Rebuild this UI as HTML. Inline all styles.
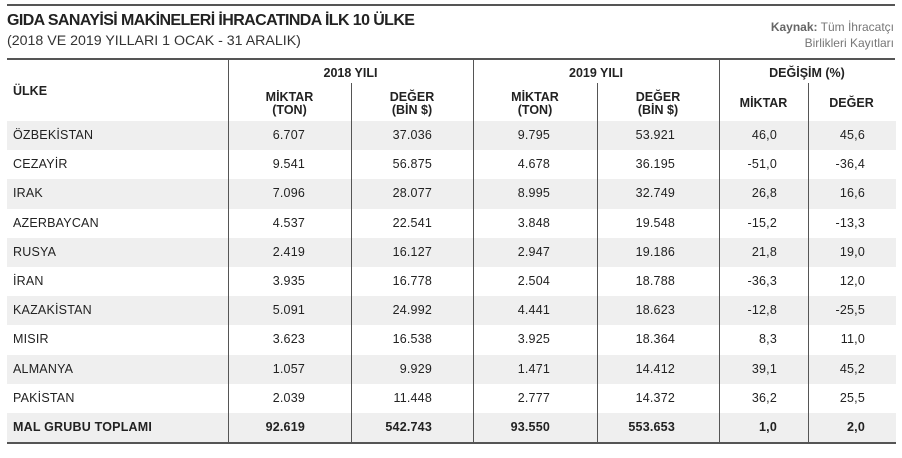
<!DOCTYPE html>
<html><head><meta charset="utf-8"><style>
*{margin:0;padding:0;box-sizing:border-box}
body{width:902px;height:458px;background:#fff;position:relative;overflow:hidden;font-family:"Liberation Sans","DejaVu Sans",sans-serif;color:#222}
.a{position:absolute;white-space:nowrap}
.hl{position:absolute;background:#555;height:2px}
.vl{position:absolute;background:#555;width:1.5px}
.row{position:absolute;left:7px;width:889px;height:29.2px}
.g{background:#efefef}
.c{position:absolute;top:0;line-height:29.2px;font-size:12.5px;letter-spacing:0.2px}
.r{text-align:right}
.h{font-weight:bold;font-size:12.5px;text-align:center;line-height:13px;color:#222}
</style></head><body>
<div class="hl" style="left:7px;top:4px;width:888px"></div>
<div class="a" style="left:7px;top:12px;font-size:16px;font-weight:900;letter-spacing:-0.6px">GIDA SANAYİSİ MAKİNELERİ İHRACATINDA İLK 10 ÜLKE</div>
<div class="a" style="left:7px;top:33px;font-size:14.2px;color:#333">(2018 VE 2019 YILLARI 1 OCAK - 31 ARALIK)</div>
<div class="a" style="right:8px;top:19px;font-size:12px;color:#777;text-align:right;line-height:16px"><b style="color:#666">Kaynak:</b> Tüm İhracatçı<br>Birlikleri Kayıtları</div>
<div class="hl" style="left:7px;top:58px;width:888px"></div>

<div class="a h" style="left:13px;top:85px;text-align:left">ÜLKE</div>
<div class="a h" style="left:228px;width:245px;top:67px">2018 YILI</div>
<div class="a h" style="left:473px;width:246px;top:67px">2019 YILI</div>
<div class="a h" style="left:719px;width:176px;top:67px">DEĞİŞİM (%)</div>
<div class="a h" style="left:228px;width:123px;top:91px">MİKTAR<br>(TON)</div>
<div class="a h" style="left:351px;width:122px;top:91px">DEĞER<br>(BİN $)</div>
<div class="a h" style="left:473px;width:124px;top:91px">MİKTAR<br>(TON)</div>
<div class="a h" style="left:597px;width:122px;top:91px">DEĞER<br>(BİN $)</div>
<div class="a h" style="left:719px;width:89px;top:97px">MİKTAR</div>
<div class="a h" style="left:808px;width:87px;top:97px">DEĞER</div>

<div id="rows"></div>
<script>
var d=[["ÖZBEKİSTAN","6.707","37.036","9.795","53.921","46,0","45,6"],
["CEZAYİR","9.541","56.875","4.678","36.195","-51,0","-36,4"],
["IRAK","7.096","28.077","8.995","32.749","26,8","16,6"],
["AZERBAYCAN","4.537","22.541","3.848","19.548","-15,2","-13,3"],
["RUSYA","2.419","16.127","2.947","19.186","21,8","19,0"],
["İRAN","3.935","16.778","2.504","18.788","-36,3","12,0"],
["KAZAKİSTAN","5.091","24.992","4.441","18.623","-12,8","-25,5"],
["MISIR","3.623","16.538","3.925","18.364","8,3","11,0"],
["ALMANYA","1.057","9.929","1.471","14.412","39,1","45,2"],
["PAKİSTAN","2.039","11.448","2.777","14.372","36,2","25,5"],
["MAL GRUBU TOPLAMI","92.619","542.743","93.550","553.653","1,0","2,0"]];
var ends=[305,432,550,675,777,865],h="";
d.forEach(function(r,i){var t=121+i*29.2;var b=i==10?"font-weight:bold;":"";
h+='<div class="row'+(i%2==0?' g':'')+'" style="top:'+t+'px">';
h+='<div class="c" style="left:6px;'+b+'">'+r[0]+'</div>';
for(var j=1;j<7;j++)h+='<div class="c r" style="right:'+(896-ends[j-1])+'px;'+b+'">'+r[j]+'</div>';
h+='</div>';});
document.getElementById("rows").innerHTML=h;
</script>
<div class="hl" style="left:7px;top:442px;width:889px;height:1.5px"></div>
<div class="vl" style="left:227.5px;top:59px;height:384px"></div>
<div class="vl" style="left:472.5px;top:59px;height:384px"></div>
<div class="vl" style="left:718.5px;top:59px;height:384px"></div>
<div class="vl" style="left:350.5px;top:83px;height:360px"></div>
<div class="vl" style="left:596.5px;top:83px;height:360px"></div>
<div class="vl" style="left:807.5px;top:83px;height:360px"></div>
</body></html>
